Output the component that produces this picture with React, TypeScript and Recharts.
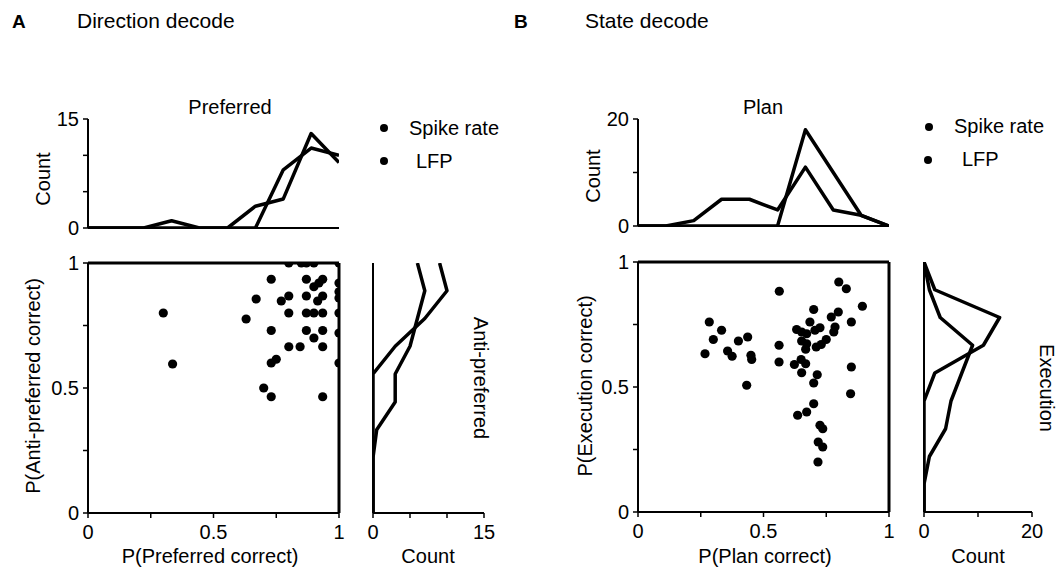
import React from 'react';
import { ScatterChart, Scatter, XAxis, YAxis } from 'recharts';

const W = 1057;
const H = 568;
const FONT = '"Liberation Sans", Arial, Helvetica, sans-serif';
const INK = '#000';

// Histogram bin centres (probability)
const binCentres = [0, 0.111, 0.222, 0.333, 0.444, 0.556, 0.667, 0.778, 0.889, 1];

// Panel A — Direction decode
const prefSpike = [0, 0, 0, 1, 0, 0, 3, 4, 13, 9];
const prefLfp = [0, 0, 0, 0, 0, 0, 0, 8, 11, 10];
const antiSpike = [0, 0, 0, 0, 0, 0, 3, 7, 10, 9];
const antiLfp = [0, 0, 0, 0.5, 3, 3, 5, 6, 7, 6];
const dirPrefCorrect = [
  0.8, 0.85, 0.87, 0.9, 1.0, 0.73, 0.87, 0.9, 0.92, 0.935, 0.67, 0.77, 0.8, 0.87, 0.915, 0.935,
  0.3, 0.63, 0.8, 0.87, 0.9, 0.935, 1.0, 1.0, 1.0, 1.0, 0.73, 0.87, 0.935, 0.9, 1.0, 0.8, 0.845,
  0.935, 0.337, 0.73, 0.75, 1.0, 0.7, 0.73, 0.935,
];
const dirAntiCorrect = [
  1.0, 1.0, 1.0, 1.0, 1.0, 0.935, 0.935, 0.905, 0.92, 0.935, 0.856, 0.848, 0.868, 0.868, 0.848, 0.868,
  0.8, 0.776, 0.8, 0.8, 0.8, 0.8, 0.92, 0.885, 0.86, 0.8, 0.73, 0.73, 0.73, 0.7, 0.72, 0.665, 0.665,
  0.665, 0.596, 0.6, 0.615, 0.6, 0.5, 0.465, 0.465,
];

// Panel B — State decode
const planSpike = [0, 0, 1, 5, 5, 3, 11, 3, 2, 0];
const planLfp = [0, 0, 0, 0, 0, 0, 18, 10, 2, 0];
const execSpike = [0, 0, 0, 0, 0, 2, 11, 14, 2, 0];
const execLfp = [0, 0, 1, 4, 5, 7, 9, 3, 1, 0];
const statePlanCorrect = [
  0.267, 0.284, 0.3, 0.333, 0.357, 0.375, 0.4, 0.437, 0.45, 0.453, 0.433,
  0.563, 0.562, 0.562, 0.623, 0.65, 0.668, 0.652,
  0.632, 0.652, 0.672, 0.685, 0.7, 0.652, 0.672, 0.668,
  0.705, 0.725, 0.71, 0.73, 0.75, 0.714, 0.7, 0.7, 0.672, 0.636,
  0.725, 0.736, 0.718, 0.736, 0.717, 0.77, 0.785, 0.798, 0.78,
  0.8, 0.83, 0.85, 0.894, 0.85, 0.847,
];
const stateExecCorrect = [
  0.633, 0.76, 0.69, 0.727, 0.644, 0.623, 0.684, 0.7, 0.627, 0.61, 0.507,
  0.883, 0.667, 0.6, 0.59, 0.61, 0.593, 0.557,
  0.73, 0.72, 0.713, 0.76, 0.81, 0.684, 0.673, 0.651,
  0.727, 0.737, 0.66, 0.67, 0.69, 0.549, 0.516, 0.433, 0.4, 0.387,
  0.347, 0.333, 0.28, 0.26, 0.2, 0.78, 0.74, 0.8, 0.72,
  0.92, 0.893, 0.76, 0.823, 0.58, 0.473,
];

const probTicks = [0, 0.25, 0.5, 0.75, 1];
const countTicksA = [0, 5, 10, 15];
const countTicksB = [0, 10, 20];

const tickFont = { fill: INK, fontSize: 20, fontFamily: FONT };
const axisLine = { stroke: INK, strokeWidth: 2 };
const frameLine = { stroke: INK, strokeWidth: 3 };
const tickLine = { stroke: INK, strokeWidth: 1.5 };
const lineStyle = { stroke: INK, strokeWidth: 3.5, strokeLinejoin: 'round', fill: 'none' };

const probFmt = (v: number) => (v === 0 ? '0' : v === 0.5 ? '0.5' : v === 1 ? '1' : '');
const endsFmt = (max: number) => (v: number) => (v === 0 || v === max ? String(v) : '');
const noDot = () => <g />;
const dot = (p: any) => <circle cx={p.cx} cy={p.cy} r={4.6} fill={INK} />;

function Layer({ children }: { children: React.ReactNode }) {
  return (
    <div style={{ position: 'absolute', left: 0, top: 0, width: W, height: H }}>{children}</div>
  );
}

type Rect = { x0: number; x1: number; y0: number; y1: number };

function TopHist({ r, max, ticks, s1, s2 }: { r: Rect; max: number; ticks: number[]; s1: number[]; s2: number[] }) {
  const yw = 40;
  const xh = 20;
  const margin = { left: r.x0 - yw, right: W - r.x1, top: r.y0, bottom: H - r.y1 - xh };
  const d1 = binCentres.map((x, i) => ({ x, y: s1[i] }));
  const d2 = binCentres.map((x, i) => ({ x, y: s2[i] }));
  return (
    <Layer>
      <ScatterChart width={W} height={H} margin={margin}>
        <XAxis type="number" dataKey="x" domain={[0, 1]} ticks={probTicks} tick={false} height={xh}
          axisLine={axisLine} tickLine={tickLine} tickSize={5} interval={0} allowDataOverflow />
        <YAxis type="number" dataKey="y" domain={[0, max]} ticks={ticks} width={yw} tick={tickFont}
          tickFormatter={endsFmt(max)} axisLine={axisLine} tickLine={tickLine} tickSize={5} tickMargin={4}
          interval={0} allowDataOverflow />
        <Scatter data={d1} line={lineStyle} lineType="joint" shape={noDot} isAnimationActive={false} />
        <Scatter data={d2} line={lineStyle} lineType="joint" shape={noDot} isAnimationActive={false} />
      </ScatterChart>
    </Layer>
  );
}

function SideHist({ r, max, ticks, s1, s2 }: { r: Rect; max: number; ticks: number[]; s1: number[]; s2: number[] }) {
  const yw = 10;
  const xh = 40;
  const margin = { left: r.x0 - yw, right: W - r.x1, top: r.y0, bottom: H - r.y1 - xh };
  const d1 = binCentres.map((p, i) => ({ c: s1[i], p }));
  const d2 = binCentres.map((p, i) => ({ c: s2[i], p }));
  return (
    <Layer>
      <ScatterChart width={W} height={H} margin={margin}>
        <XAxis type="number" dataKey="c" domain={[0, max]} ticks={ticks} height={xh} tick={tickFont}
          tickFormatter={endsFmt(max)} axisLine={axisLine} tickLine={tickLine} tickSize={5} tickMargin={7}
          interval={0} allowDataOverflow />
        <YAxis type="number" dataKey="p" domain={[0, 1]} ticks={probTicks} width={yw} tick={false}
          axisLine={axisLine} tickLine={tickLine} tickSize={5} interval={0} allowDataOverflow />
        <Scatter data={d1} line={lineStyle} lineType="joint" shape={noDot} isAnimationActive={false} />
        <Scatter data={d2} line={lineStyle} lineType="joint" shape={noDot} isAnimationActive={false} />
      </ScatterChart>
    </Layer>
  );
}

function ScatterPanel({ r, xs, ys }: { r: Rect; xs: number[]; ys: number[] }) {
  const yw = 40;
  const xh = 40;
  const th = 10;
  const rw = 10;
  const margin = { left: r.x0 - yw, right: W - r.x1 - rw, top: r.y0 - th, bottom: H - r.y1 - xh };
  const pts = xs.map((x, i) => ({ x, y: ys[i] }));
  return (
    <Layer>
      <ScatterChart width={W} height={H} margin={margin}>
        <XAxis xAxisId="b" type="number" dataKey="x" domain={[0, 1]} ticks={probTicks} height={xh}
          tick={tickFont} tickFormatter={probFmt} axisLine={axisLine} tickLine={tickLine} tickSize={5}
          tickMargin={7} interval={0} allowDataOverflow />
        <XAxis xAxisId="t" orientation="top" type="number" dataKey="x" domain={[0, 1]} ticks={probTicks}
          height={th} tick={false} axisLine={frameLine} tickLine={tickLine} tickSize={5} interval={0}
          allowDataOverflow />
        <YAxis yAxisId="l" type="number" dataKey="y" domain={[0, 1]} ticks={probTicks} width={yw}
          tick={tickFont} tickFormatter={probFmt} axisLine={axisLine} tickLine={tickLine} tickSize={5}
          tickMargin={4} interval={0} allowDataOverflow />
        <YAxis yAxisId="r" orientation="right" type="number" dataKey="y" domain={[0, 1]} ticks={probTicks}
          width={rw} tick={false} axisLine={frameLine} tickLine={tickLine} tickSize={5} interval={0}
          allowDataOverflow />
        <Scatter xAxisId="b" yAxisId="l" data={pts} shape={dot} isAnimationActive={false} />
      </ScatterChart>
    </Layer>
  );
}

function Texts() {
  const t = { fontFamily: FONT, fill: INK } as const;
  return (
    <svg width={W} height={H} style={{ position: 'absolute', left: 0, top: 0 }}>
      <g {...t}>
        <text x={12} y={28} fontSize={19} fontWeight="bold">A</text>
        <text x={77} y={28} fontSize={21}>Direction decode</text>
        <text x={514} y={28} fontSize={19} fontWeight="bold">B</text>
        <text x={585} y={28} fontSize={21}>State decode</text>

        <text x={230} y={114} fontSize={20} textAnchor="middle">Preferred</text>
        <text x={763} y={114} fontSize={20} textAnchor="middle">Plan</text>

        <circle cx={384} cy={128} r={4} />
        <circle cx={384} cy={161} r={4} />
        <text x={409} y={135} fontSize={20}>Spike rate</text>
        <text x={416} y={168} fontSize={20}>LFP</text>
        <circle cx={929} cy={127} r={4} />
        <circle cx={928} cy={160} r={4} />
        <text x={954} y={133} fontSize={20}>Spike rate</text>
        <text x={962} y={166} fontSize={20}>LFP</text>

        <text transform="translate(50,179) rotate(-90)" fontSize={20} textAnchor="middle">Count</text>
        <text transform="translate(40,386) rotate(-90)" fontSize={20} textAnchor="middle">P(Anti-preferred correct)</text>
        <text transform="translate(600,176) rotate(-90)" fontSize={20} textAnchor="middle">Count</text>
        <text transform="translate(592,386) rotate(-90)" fontSize={20} textAnchor="middle">P(Execution correct)</text>
        <text transform="translate(474,378) rotate(90)" fontSize={20} textAnchor="middle">Anti-preferred</text>
        <text transform="translate(1040,388) rotate(90)" fontSize={20} textAnchor="middle">Execution</text>

        <text x={210} y={563} fontSize={20} textAnchor="middle">P(Preferred correct)</text>
        <text x={428} y={563} fontSize={20} textAnchor="middle">Count</text>
        <text x={765} y={563} fontSize={20} textAnchor="middle">P(Plan correct)</text>
        <text x={978} y={563} fontSize={20} textAnchor="middle">Count</text>
      </g>
    </svg>
  );
}

export default function App() {
  return (
    <div style={{ position: 'absolute', left: 0, top: 0, width: W, height: H, background: '#fff', fontFamily: FONT, overflow: 'hidden' }}>
      <TopHist r={{ x0: 88, x1: 339, y0: 119, y1: 228 }} max={15} ticks={countTicksA} s1={prefSpike} s2={prefLfp} />
      <ScatterPanel r={{ x0: 88, x1: 339, y0: 263, y1: 513 }} xs={dirPrefCorrect} ys={dirAntiCorrect} />
      <SideHist r={{ x0: 373, x1: 484, y0: 263, y1: 513 }} max={15} ticks={countTicksA} s1={antiSpike} s2={antiLfp} />
      <TopHist r={{ x0: 638, x1: 889, y0: 119, y1: 226 }} max={20} ticks={countTicksB} s1={planSpike} s2={planLfp} />
      <ScatterPanel r={{ x0: 638, x1: 889, y0: 262, y1: 512 }} xs={statePlanCorrect} ys={stateExecCorrect} />
      <SideHist r={{ x0: 924, x1: 1032, y0: 262, y1: 512 }} max={20} ticks={countTicksB} s1={execSpike} s2={execLfp} />
      <Texts />
    </div>
  );
}
